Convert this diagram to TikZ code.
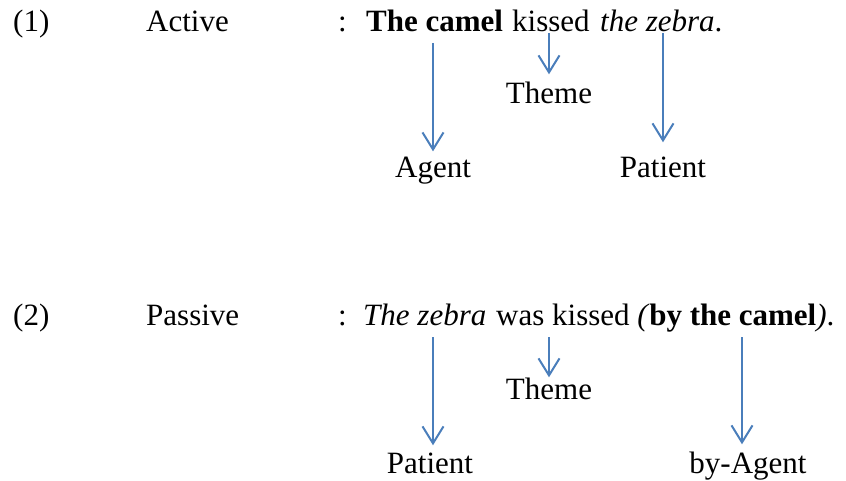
\documentclass[tikz,border=0pt]{standalone}
\usepackage{fontspec}
\setmainfont{Liberation Serif}
\usepackage{tikz}
\usetikzlibrary{arrows.meta}
\definecolor{roleblue}{HTML}{4A7EBB}

\begin{document}
\begin{tikzpicture}[x=1pt, y=-1pt,
  font=\fontsize{31}{36}\selectfont,
  word/.style={anchor=base west, inner sep=0pt},
  lab/.style={anchor=base, inner sep=0pt},
  role/.style={draw=roleblue, line width=2pt, -{Straight Barb[length=17pt, width=21pt]}}]
\useasboundingbox (0,0) rectangle (846,481);

\node[word] (num1) at (13,32) {(1)};
\node[word] (active) at (146,32) {Active};
\node[word] (colon1) at (338,32) {:};
\node[word] (camel1) at (366,32) {\textbf{The camel}};
\node[word] (kissed1) at (512,32) {kissed};
\node[word] (zebra1) at (600,32) {\textit{the zebra}.};

\node[lab] (agent1) at (433,178) {Agent};
\node[lab] (theme1) at (549,104) {Theme};
\node[lab] (patient1) at (663,178) {Patient};

\coordinate (s1) at (433,43);
\coordinate (s2) at (549,33);
\coordinate (s3) at (663,33);
\draw[role, shorten >=6pt] (s1) -- (s1 |- agent1.north);
\draw[role, shorten >=8pt] (s2) -- (s2 |- theme1.north);
\draw[role, shorten >=15pt] (s3) -- (s3 |- patient1.north);

\node[word] (num2) at (13,325) {(2)};
\node[word] (passive) at (146,325) {Passive};
\node[word] (colon2) at (338,325) {:};
\node[word] (zebra2) at (363,325) {\textit{The zebra}};
\node[word] (rest2) at (496,325) {was kissed \textit{(}\textbf{by the camel}\textit{)}.};

\node[lab] (theme2) at (549,399) {Theme};
\node[lab] (patient2) at (430,473) {Patient};
\node[lab] (byagent) at (748,473) {by-Agent};

\coordinate (s4) at (433,337);
\coordinate (s5) at (549,337);
\coordinate (s6) at (742,337);
\draw[role, shorten >=7pt] (s4) -- (s4 |- patient2.north);
\draw[role, shorten >=0pt] (s5) -- (s5 |- theme2.north);
\draw[role, shorten >=7pt] (s6) -- (s6 |- byagent.north);
\end{tikzpicture}
\end{document}
